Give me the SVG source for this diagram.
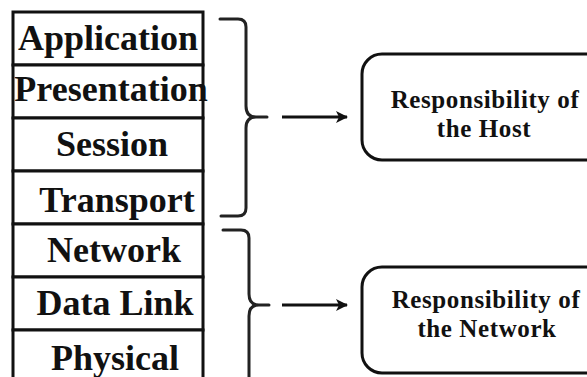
<svg xmlns="http://www.w3.org/2000/svg" width="587" height="377" viewBox="0 0 587 377">
<style>
.layer{font-family:"Liberation Serif","Times New Roman",serif;font-weight:bold;font-size:36px;fill:#111;text-anchor:middle}
.lbl{font-family:"Liberation Serif","Times New Roman",serif;font-weight:bold;font-size:25px;letter-spacing:0.6px;fill:#111;text-anchor:middle}
.cell{fill:#fff;stroke:#111;stroke-width:3}
.box{fill:#fff;stroke:#111;stroke-width:3}
.brace{fill:none;stroke:#222;stroke-width:3;stroke-linecap:round;stroke-linejoin:round}
.arr{fill:none;stroke:#111;stroke-width:3}
</style>
<defs>
<marker id="ah" viewBox="0 0 12 12" refX="11" refY="6" markerWidth="12" markerHeight="12" markerUnits="userSpaceOnUse" orient="auto">
<path d="M0,0 L12,6 L0,12 L3,6 Z" fill="#111"/>
</marker>
</defs>
<rect width="587" height="377" fill="#fff"/>
<g id="stack">
<g id="application"><rect class="cell" x="13" y="12" width="190" height="53"/><text class="layer" x="108" y="50">Application</text></g>
<g id="presentation"><rect class="cell" x="13" y="65" width="190" height="53"/><text class="layer" x="111" y="101">Presentation</text></g>
<g id="session"><rect class="cell" x="13" y="118" width="190" height="53"/><text class="layer" x="112" y="156">Session</text></g>
<g id="transport"><rect class="cell" x="13" y="171" width="190" height="53"/><text class="layer" x="117" y="212">Transport</text></g>
<g id="network"><rect class="cell" x="13" y="224" width="190" height="53"/><text class="layer" x="114" y="262">Network</text></g>
<g id="datalink"><rect class="cell" x="13" y="277" width="190" height="53"/><text class="layer" x="115" y="315">Data Link</text></g>
<g id="physical"><rect class="cell" x="13" y="330" width="190" height="60"/><text class="layer" x="115" y="370">Physical</text></g>
</g>
<g id="host"><rect class="box" x="362" y="54" width="245" height="106" rx="20"/><text class="lbl" x="485" y="108">Responsibility of</text><text class="lbl" x="484" y="137">the Host</text></g>
<g id="netresp"><rect class="box" x="362" y="267" width="245" height="106" rx="20"/><text class="lbl" x="486" y="308">Responsibility of</text><text class="lbl" x="487" y="337">the Network</text></g>
<g id="connectors">
<path class="brace" d="M220,19 L238,19 Q246,19 246,27 L246,106 Q246,117 256,117 L267,117 M256,117 Q246,117 246,128 L246,208 Q246,216 238,216 L221,216"/>
<path class="brace" d="M223,230 L241,230 Q249,230 249,238 L249,294 Q249,305 259,305 L269,305 M259,305 Q249,305 249,316 L249,390"/>
<line class="arr" x1="282" y1="117" x2="347" y2="117" marker-end="url(#ah)"/>
<line class="arr" x1="282" y1="305" x2="347" y2="305" marker-end="url(#ah)"/>
</g>
</svg>
